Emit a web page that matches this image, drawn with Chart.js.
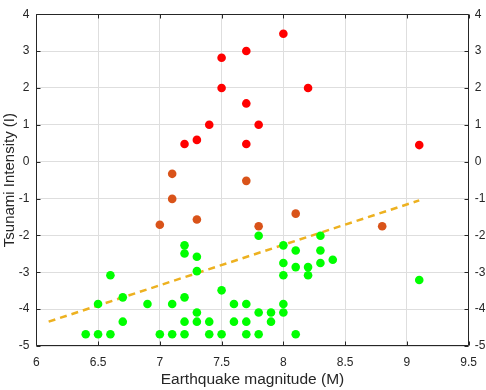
<!DOCTYPE html>
<html><head><meta charset="utf-8">
<script src="https://cdn.jsdelivr.net/npm/chart.js"></script>
<style>html,body{margin:0;padding:0;background:#fff}</style>
</head><body>
<canvas id="c" width="486" height="390"></canvas>
<script>
// ---- data ----
const redX = [8.0, 7.7, 7.5, 7.5, 8.2, 7.7, 7.4, 7.8, 7.2, 7.3, 7.7, 9.1];
const redY = [3.47, 3.0, 2.82, 2.0, 2.0, 1.58, 1.0, 1.0, 0.48, 0.59, 0.48, 0.45];
const orangeX = [7.1, 7.7, 7.1, 7.3, 7.0, 8.1, 7.8, 8.8];
const orangeY = [-0.33, -0.52, -1.01, -1.57, -1.71, -1.41, -1.75, -1.75];
const greenX = [7.2, 7.2, 7.3, 6.6, 7.3, 7.5, 6.5, 6.7, 6.9, 7.1, 7.2, 7.3, 6.7, 7.2, 7.3, 7.4,
  6.4, 6.5, 6.6, 7.0, 7.1, 7.2, 7.4, 7.5,
  7.8, 8.0, 8.3, 8.1, 8.3, 8.4, 8.0, 8.1, 8.2, 8.3, 8.0, 8.2, 9.1, 7.6, 7.7, 8.0, 7.8, 7.9, 8.0, 7.6, 7.7, 7.9,
  7.7, 7.8, 8.1];
const greenY = [-2.27, -2.49, -2.58, -3.08, -2.97, -3.49, -3.86, -3.68, -3.86, -3.86, -3.68, -4.09, -4.34, -4.34, -4.34, -4.34,
  -4.68, -4.68, -4.68, -4.68, -4.68, -4.68, -4.68, -4.68,
  -2.01, -2.27, -2.01, -2.41, -2.41, -2.66, -2.75, -2.86, -2.86, -2.75, -3.08, -3.08, -3.21, -3.86, -3.86, -3.86, -4.09, -4.09, -4.09, -4.34, -4.34, -4.34,
  -4.68, -4.68, -4.68];
const fitX = [6.1, 9.1];
const fitY = [-4.34, -1.05];
const xTicks = [6, 6.5, 7, 7.5, 8, 8.5, 9, 9.5];
const yTicks = [-5, -4, -3, -2, -1, 0, 1, 2, 3, 4];
const xTitle = 'Earthquake magnitude (M)';
const yTitle = 'Tsunami Intensity (I)';

// ---- helpers ----
const pts = (xs, ys) => xs.map((x, i) => ({x: x, y: ys[i]}));
const FONT = "'Liberation Sans', Arial, sans-serif";
const AX = '#262626';
const GRID = '#dedede';
const setX = s => { s.ticks = xTicks.map(v => ({value: v})); };
const setY = s => { s.ticks = yTicks.map(v => ({value: v})); };

const framePlugin = {
  id: 'frame',
  afterDatasetsDraw(chart) {
    const ctx = chart.ctx, a = chart.chartArea, sx = chart.scales.x, sy = chart.scales.y;
    const L = Math.round(a.left) + 0.5, R = Math.round(a.right) - 0.5;
    const T = Math.round(a.top) + 0.5, B = Math.round(a.bottom) - 0.5;
    const tl = 4;
    ctx.save();
    ctx.strokeStyle = AX;
    ctx.lineWidth = 1;
    ctx.beginPath();
    ctx.rect(L, T, R - L, B - T);
    xTicks.forEach(v => {
      const p = Math.round(sx.getPixelForValue(v)) + 0.5;
      ctx.moveTo(p, B); ctx.lineTo(p, B - tl);
      ctx.moveTo(p, T); ctx.lineTo(p, T + tl);
    });
    yTicks.forEach(v => {
      const p = Math.round(sy.getPixelForValue(v)) + 0.5;
      ctx.moveTo(L, p); ctx.lineTo(L + tl, p);
      ctx.moveTo(R, p); ctx.lineTo(R - tl, p);
    });
    ctx.stroke();
    ctx.restore();
  }
};

new Chart(document.getElementById('c'), {
  type: 'scatter',
  data: {
    datasets: [
      {data: pts(greenX, greenY), backgroundColor: '#00ff00', pointRadius: 4.3, borderWidth: 0, pointHoverRadius: 4.3},
      {data: pts(orangeX, orangeY), backgroundColor: '#d95319', pointRadius: 4.3, borderWidth: 0, pointHoverRadius: 4.3},
      {data: pts(redX, redY), backgroundColor: '#ff0000', pointRadius: 4.3, borderWidth: 0, pointHoverRadius: 4.3},
      {type: 'line', data: pts(fitX, fitY), showLine: true, borderColor: '#edb120', borderWidth: 2.5,
       borderDash: [7, 5], pointRadius: 0, fill: false}
    ]
  },
  options: {
    responsive: false,
    animation: false,
    devicePixelRatio: 1,
    layout: {padding: 0},
    plugins: {legend: {display: false}, tooltip: {enabled: false}},
    scales: {
      x: {
        type: 'linear', position: 'bottom', min: 6, max: 9.5,
        afterBuildTicks: setX,
        ticks: {font: {family: FONT, size: 12}, color: AX, padding: 9, maxRotation: 0, callback: v => String(v)},
        grid: {color: GRID, lineWidth: 1, drawTicks: false},
        border: {display: false},
        title: {display: true, text: xTitle, color: AX, font: {family: FONT, size: 15.5}, padding: {top: 0, bottom: 1}},
        afterFit: s => { s.height = 44; }
      },
      x2: {
        type: 'linear', position: 'top', min: 6, max: 9.5,
        ticks: {display: false},
        grid: {display: false, drawTicks: false},
        border: {display: false},
        afterFit: s => { s.height = 4.7; }
      },
      y: {
        type: 'linear', position: 'left', min: -5, max: 4,
        afterBuildTicks: setY,
        ticks: {font: {family: FONT, size: 12}, color: AX, padding: 7, callback: v => String(v)},
        grid: {color: GRID, lineWidth: 1, drawTicks: false},
        border: {display: false},
        title: {display: true, text: yTitle, color: AX, font: {family: FONT, size: 15}, padding: {top: 1, bottom: 0}},
        afterFit: s => { s.width = 36.3; }
      },
      y2: {
        type: 'linear', position: 'right', min: -5, max: 4,
        afterBuildTicks: setY,
        ticks: {font: {family: FONT, size: 12}, color: AX, padding: 6, callback: v => String(v)},
        grid: {display: false, drawTicks: false},
        border: {display: false},
        afterFit: s => { s.width = 17.3; }
      }
    }
  },
  plugins: [framePlugin]
});
</script>
</body></html>
